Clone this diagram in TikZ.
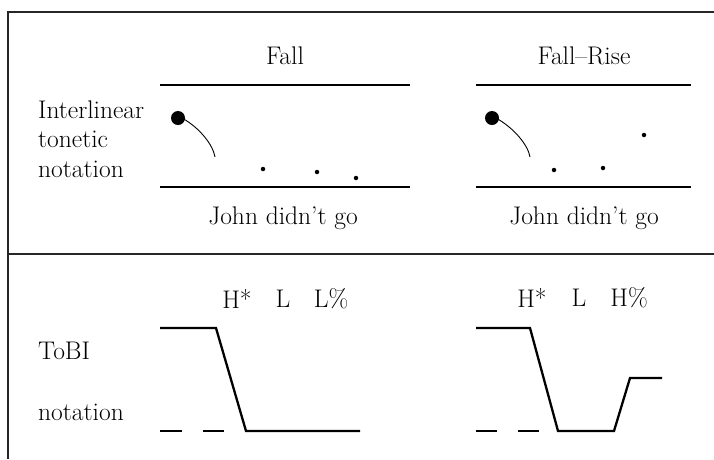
\documentclass[tikz,border=0pt]{standalone}
\begin{document}
\begin{tikzpicture}[x=1pt,y=-1pt,
  lbl/.style={font=\fontsize{25.5}{30}\selectfont, inner sep=0pt, anchor=center},
  leftlbl/.style={font=\fontsize{25.5}{30}\selectfont, inner sep=0pt, anchor=west},
  staff/.style={line width=2.3pt},
  contour/.style={line width=2.3pt, line join=miter},
  frame/.style={line width=1.1pt, draw=black!85},
  bigdot/.style={circle, fill=black, inner sep=0pt, minimum size=14pt},
  smalldot/.style={circle, fill=black, inner sep=0pt, minimum size=4.5pt}]
\useasboundingbox (0,0) rectangle (714,459);
% frame
\draw[frame] (714,12) -- (8,12) -- (8,459);
\draw[frame] (8,254) -- (714,254);
% left labels
\node[leftlbl] (il1) at (38,110) {Interlinear};
\node[leftlbl] (il2) at (38,139) {tonetic};
\node[leftlbl] (il3) at (38,169) {notation};
\node[leftlbl] (tb1) at (38,351) {ToBI};
\node[leftlbl] (tb2) at (38,412) {notation};
% titles
\node[lbl] (fall) at (285,56) {Fall};
\node[lbl] (fallrise) at (584,56) {Fall--Rise};
% staves
\draw[staff] (160,85) -- (410,85);
\draw[staff] (160,187) -- (410,187);
\draw[staff] (476,85) -- (691,85);
\draw[staff] (476,187) -- (691,187);
\node[lbl] (j1) at (283,218) {John didn't go};
\node[lbl] (j2) at (584,218) {John didn't go};
% Fall tonetic
\node[bigdot] (b1) at (178,118) {};
\coordinate (c1) at (215,157);
\draw[line width=0.9pt] (b1.center) ++(4,0) .. controls (200,128) and (213,145) .. (c1);
\node[smalldot] (d11) at (263,169) {};
\node[smalldot] (d12) at (317,172) {};
\node[smalldot] (d13) at (356,178) {};
% Fall-Rise tonetic
\node[bigdot] (b2) at (492,118) {};
\coordinate (c2) at (530,157);
\draw[line width=0.9pt] (b2.center) ++(4,0) .. controls (514,128) and (528,145) .. (c2);
\node[smalldot] (d21) at (554,170) {};
\node[smalldot] (d22) at (603,168) {};
\node[smalldot] (d23) at (644,135) {};
% ToBI labels
\node[lbl] (h1) at (237,299) {H*};
\node[lbl] (l1) at (283,299) {L};
\node[lbl] (lp1) at (331,299) {L\%};
\node[lbl] (h2) at (532,298) {H*};
\node[lbl] (l2) at (579,298) {L};
\node[lbl] (hp2) at (629,298) {H\%};
% Fall contour
\coordinate (f0) at (160,328);
\coordinate (f1) at (216,328);
\coordinate (f2) at (246,431);
\coordinate (f3) at (360,431);
\draw[contour] (f0) -- (f1) -- (f2) -- (f3);
\draw[contour] (160,431) -- (182,431);
\draw[contour] (203,431) -- (224,431);
% Fall-Rise contour
\coordinate (r0) at (476,328);
\coordinate (r1) at (530,328);
\coordinate (r2) at (558,431);
\coordinate (r3) at (614,431);
\coordinate (r4) at (630,378);
\coordinate (r5) at (662,378);
\draw[contour] (r0) -- (r1) -- (r2) -- (r3) -- (r4) -- (r5);
\draw[contour] (476,431) -- (497,431);
\draw[contour] (518,431) -- (539,431);
\end{tikzpicture}
\end{document}
